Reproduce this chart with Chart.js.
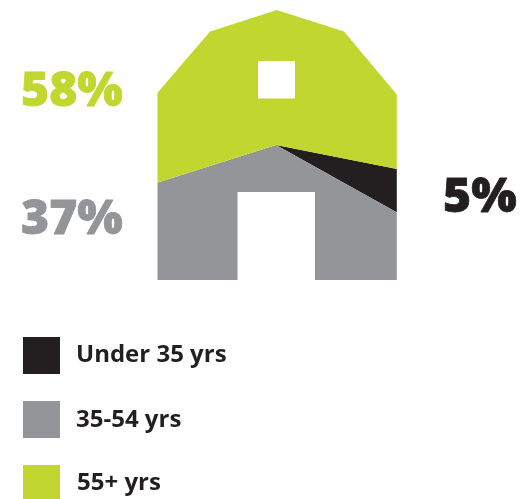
<!DOCTYPE html>
<html>
<head>
<meta charset="utf-8">
<style>html,body{margin:0;padding:0;background:#fff}#w{position:absolute;left:0;top:0;width:521px;height:499px}</style>
<script src="https://cdn.jsdelivr.net/npm/chart.js@4/dist/chart.umd.min.js"></script>
</head>
<body>
<div id="w"><canvas id="c" width="521" height="499"></canvas></div>
<script>
const categories = ['Under 35 yrs', '35-54 yrs', '55+ yrs'];
const shares = [5, 37, 58];
const shareLabels = ['5%', '37%', '58%'];
const colors = ['#231f20', '#939598', '#c1d72f'];

const barnOutline = [[157.5,92.7],[210,31.5],[276.8,10],[344,31.5],[396.8,94.5],[396.8,280],[157.5,280]];
const barnWindow = [258,61,37,37.5];
const barnDoor = [237.5,192,77.5,88];
const bigLabelPos = [[443,212],[21,234],[21,106]];
const legendRows = [[337,362],[401,427],[465,490]];
const legendTextX = [76,76,77];

const barnClip = {
  id: 'barnClip',
  beforeDatasetsDraw(chart) {
    const c = chart.ctx;
    c.save();
    c.beginPath();
    barnOutline.forEach((p, i) => i ? c.lineTo(p[0], p[1]) : c.moveTo(p[0], p[1]));
    c.closePath();
    c.clip();
  },
  afterDatasetsDraw(chart) {
    const c = chart.ctx;
    c.restore();
    c.save();
    c.fillStyle = '#ffffff';
    c.fillRect(...barnWindow);
    c.fillRect(...barnDoor);
    c.textBaseline = 'alphabetic';
    c.textAlign = 'left';
    c.font = '800 48px "Open Sans"';
    c.lineJoin = 'round';
    shareLabels.forEach((t, i) => {
      c.fillStyle = colors[i];
      c.strokeStyle = colors[i];
      c.lineWidth = 0.8;
      c.fillText(t, bigLabelPos[i][0], bigLabelPos[i][1]);
      c.strokeText(t, bigLabelPos[i][0], bigLabelPos[i][1]);
    });
    c.font = '700 24px "Open Sans"';
    categories.forEach((t, i) => {
      c.fillStyle = colors[i];
      c.fillRect(23, legendRows[i][0], 37, 37);
      c.fillStyle = '#231f20';
      c.fillText(t, legendTextX[i], legendRows[i][1]);
    });
    c.restore();
  }
};

new Chart(document.getElementById('c'), {
  type: 'pie',
  data: {
    labels: categories,
    datasets: [{ data: shares, backgroundColor: colors, borderWidth: 0, clip: false }]
  },
  options: {
    responsive: false,
    animation: false,
    rotation: 101.2,
    radius: 230,
    layout: { padding: { left: 31, right: 0, top: 0, bottom: 209 } },
    plugins: { legend: { display: false }, tooltip: { enabled: false } }
  },
  plugins: [barnClip]
});
</script>
</body>
</html>
